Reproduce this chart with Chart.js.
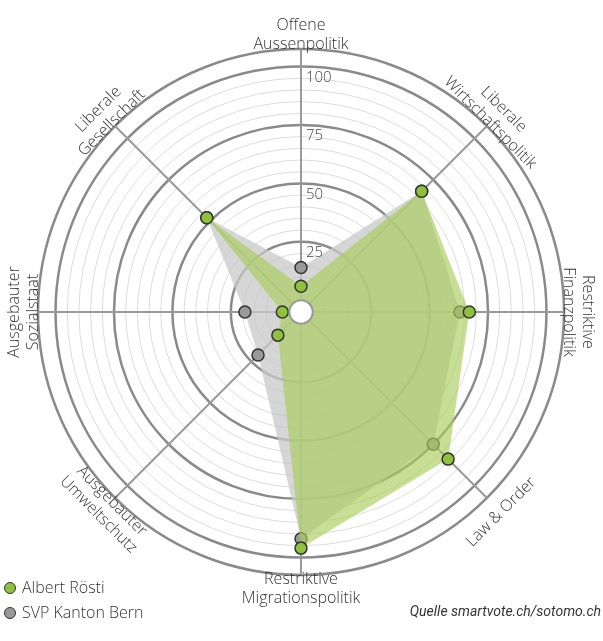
<!DOCTYPE html>
<html>
<head>
<meta charset="utf-8">
<script src="https://cdn.jsdelivr.net/npm/chart.js@4"></script>
<style>
  body { margin: 0; background: #fff; font-family: "Open Sans", sans-serif; }
  #wrap { position: relative; width: 603px; height: 641px; }
  .leg { position: absolute; left: 4px; font-size: 16px; color: #333; font-weight: 300; }
  .leg span { display: inline-block; width: 10px; height: 10px; border: 1.5px solid #333; border-radius: 50%; margin-right: 6px; vertical-align: -1px; }
  #src { position: absolute; right: 2px; top: 603px; font-family: "Liberation Sans Narrow", "Roboto", sans-serif; font-style: italic; font-size: 14px; color: #333; }
</style>
</head>
<body>
<div id="wrap">
  <canvas id="radar" width="603" height="641"></canvas>
  <div class="leg" style="top:576px"><span style="background:#8fc13c"></span>Albert Rösti</div>
  <div class="leg" style="top:601px"><span style="background:#999"></span>SVP Kanton Bern</div>
  <div id="src">Quelle smartvote.ch/sotomo.ch</div>
</div>
<script>
const axes = [
  ["Offene", "Aussenpolitik"],
  ["Liberale", "Wirtschaftspolitik"],
  ["Restriktive", "Finanzpolitik"],
  ["Law & Order"],
  ["Restriktive", "Migrationspolitik"],
  ["Ausgebauter", "Umweltschutz"],
  ["Ausgebauter", "Sozialstaat"],
  ["Liberale", "Gesellschaft"]
];
const roesti = [6, 68, 67, 84, 96, 9, 3, 52];
const svpBern = [14, 68, 63, 75, 92, 21, 19, 52];
const tickLabels = [25, 50, 75, 100];
const scaleMin = -5;
const scaleMax = 107.5;

const overlay = {
  id: 'overlay',
  afterDatasetsDraw(chart) {
    const s = chart.scales.r, ctx = chart.ctx;
    const r0 = s.getDistanceFromCenterForValue(0);
    ctx.save();
    ctx.beginPath();
    ctx.arc(s.xCenter, s.yCenter, r0, 0, Math.PI * 2);
    ctx.fillStyle = '#fff'; ctx.fill();
    ctx.lineWidth = 2; ctx.strokeStyle = '#999'; ctx.stroke();
    ctx.fillStyle = '#444';
    ctx.font = '300 15px "Open Sans"';
    ctx.textAlign = 'left'; ctx.textBaseline = 'middle';
    tickLabels.forEach(v => {
      ctx.fillText(String(v), s.xCenter + 5, s.yCenter - s.getDistanceFromCenterForValue(v) + 11);
    });
    ctx.restore();
  },
  afterDraw(chart) {
    const s = chart.scales.r, ctx = chart.ctx;
    const R = s.getDistanceFromCenterForValue(scaleMax);
    ctx.save();
    ctx.fillStyle = '#333';
    ctx.font = '300 16px "Open Sans"';
    ctx.textAlign = 'center'; ctx.textBaseline = 'middle';
    axes.forEach((lines, i) => {
      const th = (-90 + 45 * i) * Math.PI / 180;
      const deg = -90 + 45 * i;
      const rot = (deg > 0 && deg < 180) ? th - Math.PI / 2 : th + Math.PI / 2;
      const lh = 19;
      const d = R + (lines.length > 1 ? 14 : 20);
      ctx.save();
      ctx.translate(s.xCenter + Math.cos(th) * d, s.yCenter + Math.sin(th) * d);
      ctx.rotate(rot);
      lines.forEach((t, j) => ctx.fillText(t, 0, (j - (lines.length - 1) / 2) * lh));
      ctx.restore();
    });
    ctx.restore();
  }
};

new Chart(document.getElementById('radar'), {
  type: 'radar',
  data: {
    labels: axes,
    datasets: [{
      label: 'Albert Rösti',
      data: roesti,
      backgroundColor: 'rgba(168,206,90,0.65)',
      borderWidth: 0,
      pointBackgroundColor: '#8fc13c',
      pointBorderColor: '#333',
      pointBorderWidth: 1.5,
      pointRadius: 6
    }, {
      label: 'SVP Kanton Bern',
      data: svpBern,
      backgroundColor: 'rgba(200,200,200,0.75)',
      borderWidth: 0,
      pointBackgroundColor: '#999',
      pointBorderColor: '#333',
      pointBorderWidth: 1.5,
      pointRadius: 6
    }]
  },
  options: {
    responsive: false,
    animation: false,
    layout: { padding: { left: 38, right: 38, top: 48, bottom: 65 } },
    plugins: { legend: { display: false }, tooltip: { enabled: false } },
    scales: {
      r: {
        min: scaleMin,
        max: scaleMax,
        ticks: { display: false, stepSize: 5 },
        pointLabels: { display: false },
        angleLines: { color: '#999', lineWidth: 2 },
        grid: {
          circular: true,
          color: c => (c.tick.value % 25 === 0 && c.tick.value > 0) || c.tick.value === scaleMax ? '#8a8a8a' : '#dcdcdc',
          lineWidth: c => (c.tick.value % 25 === 0 && c.tick.value > 0) || c.tick.value === scaleMax ? 2.5 : 1
        }
      }
    }
  },
  plugins: [overlay]
});
</script>
</body>
</html>
